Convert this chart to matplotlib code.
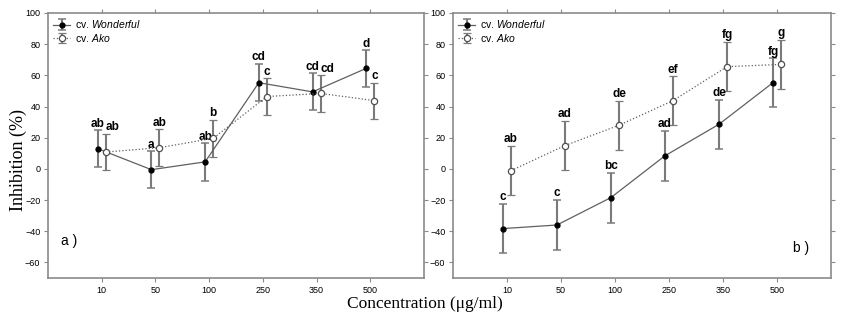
"""
Inhibition (%) vs concentration for two pomegranate cultivars, panels a) and b).
"""

import matplotlib
matplotlib.use("Agg")
import matplotlib.pyplot as plt
import numpy as np

plt.rcParams["font.family"] = ["Liberation Sans", "DejaVu Sans"]
plt.rcParams["mathtext.fontset"] = "custom"
plt.rcParams["mathtext.it"] = "Liberation Sans:italic"
plt.rcParams["mathtext.rm"] = "Liberation Sans"

# ── Data ─────────────────────────────────────────────────────────────────
concentrations = ["10", "50", "100", "250", "350", "500"]

a_wonderful     = [13.0, -0.5, 4.5, 55.3, 49.4, 64.5]
a_wonderful_err = [11.8, 11.7, 12.0, 12.0, 11.9, 11.7]
a_ako           = [10.8, 13.6, 19.6, 46.4, 48.4, 43.8]
a_ako_err       = [11.7, 11.9, 12.0, 11.7, 11.7, 11.5]
a_wonderful_letters = ["ab", "a", "ab", "cd", "cd", "d"]
a_ako_letters       = ["ab", "ab", "b", "c", "cd", "c"]

b_wonderful     = [-38.3, -36.0, -18.4, 8.4, 28.6, 55.3]
b_wonderful_err = [15.8, 16.0, 16.0, 15.9, 15.8, 15.6]
b_ako           = [-1.1, 15.0, 28.0, 43.8, 65.6, 67.0]
b_ako_err       = [15.8, 16.0, 15.7, 15.6, 15.8, 15.8]
b_wonderful_letters = ["c", "c", "bc", "ad", "de", "fg"]
b_ako_letters       = ["ab", "ad", "de", "ef", "fg", "g"]

GREY_BAR  = "#7a7a7a"
GREY_LINE = "#606060"
SPINE     = "#8a8a8a"


def draw_panel(ax, won, won_err, ako, ako_err, won_lab, ako_lab, tag, tag_xy):
    x = np.arange(1, len(concentrations) + 1)
    off = 0.075

    ax.errorbar(x - off, won, yerr=won_err, fmt="-o", color=GREY_LINE, lw=0.9,
                ms=3.5, mfc="black", mec="black", ecolor=GREY_BAR, elinewidth=1.5,
                capsize=2.8, capthick=1.1, label=r"cv. $\it{Wonderful}$", zorder=3)
    ax.errorbar(x + off, ako, yerr=ako_err, fmt=":o", color=GREY_LINE, lw=0.9,
                ms=4.5, mfc="white", mec="#505050", mew=0.9, ecolor=GREY_BAR,
                elinewidth=1.5, capsize=2.8, capthick=1.1,
                label=r"cv. $\it{Ako}$", zorder=3)

    # significance letters just above each bar; push the Ako one right when
    # both labels would sit at about the same height
    for i in range(len(x)):
        w_top = won[i] + won_err[i]
        a_top = ako[i] + ako_err[i]
        nudge = 0.12 if abs(w_top - a_top) < 6 else 0.0
        ax.text(x[i] - off, w_top + 2.3, won_lab[i], ha="center", va="baseline",
                fontsize=8.5, fontweight="bold")
        ax.text(x[i] + off + nudge, a_top + 2.3, ako_lab[i], ha="center",
                va="baseline", fontsize=8.5, fontweight="bold")

    ax.text(tag_xy[0], tag_xy[1], tag, fontsize=10, va="center", ha="left")

    ax.set_xlim(0, 7)
    ax.set_ylim(-70, 100)
    ax.set_xticks(x)
    ax.set_xticklabels(concentrations)
    ax.set_yticks(np.arange(-60, 101, 20))
    ax.tick_params(axis="both", labelsize=6.5, color=SPINE, length=3, width=0.8,
                   pad=2.5, top=True, right=True)
    for s in ax.spines.values():
        s.set_color(SPINE)
        s.set_linewidth(1.2)

    ax.legend(loc="upper left", frameon=False, fontsize=7.5, handlelength=1.6,
              handletextpad=0.5, labelspacing=0.15, borderaxespad=0.3,
              borderpad=0.2)


fig = plt.figure(figsize=(8.5, 3.27), dpi=100)
ax_a = fig.add_axes([48 / 850, 1 - 278 / 327, 376 / 850, 265 / 327])
ax_b = fig.add_axes([453 / 850, 1 - 278 / 327, 378 / 850, 265 / 327])

draw_panel(ax_a, a_wonderful, a_wonderful_err, a_ako, a_ako_err,
           a_wonderful_letters, a_ako_letters, "a )", (0.25, -46))
draw_panel(ax_b, b_wonderful, b_wonderful_err, b_ako, b_ako_err,
           b_wonderful_letters, b_ako_letters, "b )", (6.3, -51))

fig.text(18 / 850, 1 - 160 / 327, "Inhibition (%)", rotation=90, ha="center",
         va="center", fontsize=13, family=["Liberation Serif"])
fig.text(425 / 850, 1 - 304 / 327, "Concentration (μg/ml)", ha="center",
         va="center", fontsize=12.5, family=["Liberation Serif"])

fig.savefig("out.png", dpi=100)
